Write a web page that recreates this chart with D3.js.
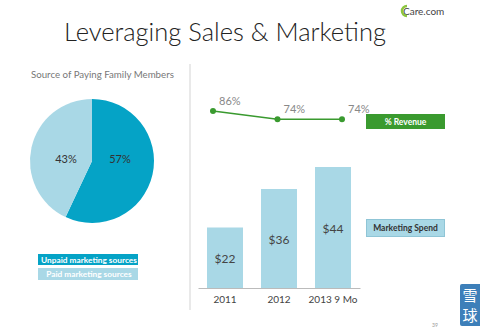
<!DOCTYPE html>
<html><head><meta charset="utf-8">
<script src="https://cdn.jsdelivr.net/npm/d3@7"></script>
<style>body{margin:0;background:#fff}svg{display:block}text{font-family:"Lato","Open Sans",sans-serif}</style>
</head><body><svg id="c" width="480" height="334"></svg>
<script>
const pieLabels = ["Unpaid marketing sources", "Paid marketing sources"];
const pieValues = [57, 43];
const years = ["2011", "2012", "2013  9 Mo"];
const revenuePct = [86, 74, 74];
const spend = [22, 36, 44];

const svg = d3.select("#c");
const darkBlue = "#05a3c6", lightBlue = "#a9d8e6", green = "#3a9a2f";

svg.append("text").attr("x", 225).attr("y", 41).attr("text-anchor", "middle")
  .attr("font-size", 25.5).attr("font-weight", 300).attr("fill", "#222").text("Leveraging Sales & Marketing");
// logo
svg.append("text").attr("x", 403).attr("y", 15).attr("font-size", 10).attr("fill", "#444").text("Care.com");
svg.append("path").attr("d", "M407,6 A5,5 0 1,0 407,16").attr("fill", "none").attr("stroke", "#8cc63f").attr("stroke-width", 2.5);

// pie
svg.append("text").attr("x", 31).attr("y", 78).attr("font-size", 9.7).attr("fill", "#777").text("Source of Paying Family Members");
const pie = d3.pie().sort(null).value(d => d)(pieValues);
const arc = d3.arc().innerRadius(0).outerRadius(62);
const pg = svg.append("g").attr("transform", "translate(92,161)");
pg.selectAll("path").data(pie).join("path").attr("d", arc).attr("fill", (d, i) => i === 0 ? darkBlue : lightBlue);
pg.selectAll("text").data(pie).join("text")
  .attr("x", (d, i) => i === 0 ? 28 : -26).attr("y", 2)
  .attr("text-anchor", "middle").attr("font-size", 11).attr("fill", "#333")
  .text(d => d.data + "%");

// pie legend
pieLabels.forEach((l, i) => {
  const y = [254, 268][i];
  svg.append("rect").attr("x", 38).attr("y", y).attr("width", 100).attr("height", i === 0 ? 11 : 12)
    .attr("fill", i === 0 ? darkBlue : lightBlue);
  svg.append("text").attr("x", 89).attr("y", y + 8.5).attr("text-anchor", "middle")
    .attr("font-size", 8.3).attr("font-weight", "bold").attr("fill", "#fff").text(l);
});

// divider
svg.append("line").attr("x1", 190).attr("x2", 190).attr("y1", 64).attr("y2", 310).attr("stroke", "#e2e2e2").attr("stroke-width", 1.5);

// bars
const x = d3.scaleBand().domain(years).range([198, 360]).paddingInner(1 / 3).paddingOuter(1 / 6);
const y = d3.scaleLinear().domain([0, 44]).range([288, 167]);
svg.selectAll(".bar").data(spend).join("rect").attr("class", "bar")
  .attr("x", (d, i) => x(years[i])).attr("width", x.bandwidth())
  .attr("y", d => y(d)).attr("height", d => y(0) - y(d)).attr("fill", lightBlue);
svg.selectAll(".bl").data(spend).join("text").attr("class", "bl")
  .attr("x", (d, i) => x(years[i]) + x.bandwidth() / 2).attr("y", d => (y(d) + y(0)) / 2 + 5)
  .attr("text-anchor", "middle").attr("font-size", 12).attr("fill", "#444").text(d => "$" + d);
const xAxis = svg.append("g").attr("transform", "translate(0,288)").call(d3.axisBottom(x).tickSize(0).tickPadding(8));
xAxis.select(".domain").attr("stroke", "#bbb");
xAxis.selectAll("text").attr("font-size", 10).attr("fill", "#444").style("font-family", "Lato");

// line
const lx = d3.scalePoint().domain(years).range([213, 342]);
const ly = d3.scaleLinear().domain([74, 86]).range([119.3, 111]);
svg.append("path").datum(revenuePct).attr("fill", "none").attr("stroke", green).attr("stroke-width", 1.5)
  .attr("d", d3.line().x((d, i) => lx(years[i])).y(d => ly(d)));
svg.selectAll(".pt").data(revenuePct).join("circle").attr("class", "pt")
  .attr("cx", (d, i) => lx(years[i])).attr("cy", d => ly(d)).attr("r", 3).attr("fill", green);
svg.selectAll(".pl").data(revenuePct).join("text").attr("class", "pl")
  .attr("x", (d, i) => lx(years[i]) + 6).attr("y", d => ly(d) - 6)
  .attr("font-size", 11).attr("fill", "#888").text(d => d + "%");

// legends right
svg.append("rect").attr("x", 366).attr("y", 114).attr("width", 79).attr("height", 15).attr("fill", green);
svg.append("text").attr("x", 405.5).attr("y", 124.5).attr("text-anchor", "middle").attr("font-size", 8.5).attr("font-weight", "bold").attr("fill", "#fff").text("% Revenue");
svg.append("rect").attr("x", 366.5).attr("y", 219.5).attr("width", 78).attr("height", 17).attr("fill", lightBlue).attr("stroke", "#8fc5d6");
svg.append("text").attr("x", 405.5).attr("y", 231).attr("text-anchor", "middle").attr("font-size", 8.5).attr("font-weight", "bold").attr("fill", "#333").text("Marketing Spend");

// page number & watermark
svg.append("text").attr("x", 432).attr("y", 327).attr("font-size", 5).attr("fill", "#999").text("39");
svg.append("rect").attr("x", 460).attr("y", 284).attr("width", 22).attr("height", 42).attr("rx", 2).attr("fill", "#3d7fb9");
svg.append("text").attr("x", 470).attr("y", 301).attr("text-anchor", "middle").attr("font-size", 15).attr("fill", "#fff").style("font-family", "Noto Sans CJK SC").text("雪");
svg.append("text").attr("x", 470).attr("y", 321).attr("text-anchor", "middle").attr("font-size", 15).attr("fill", "#fff").style("font-family", "Noto Sans CJK SC").text("球");
</script></body></html>
